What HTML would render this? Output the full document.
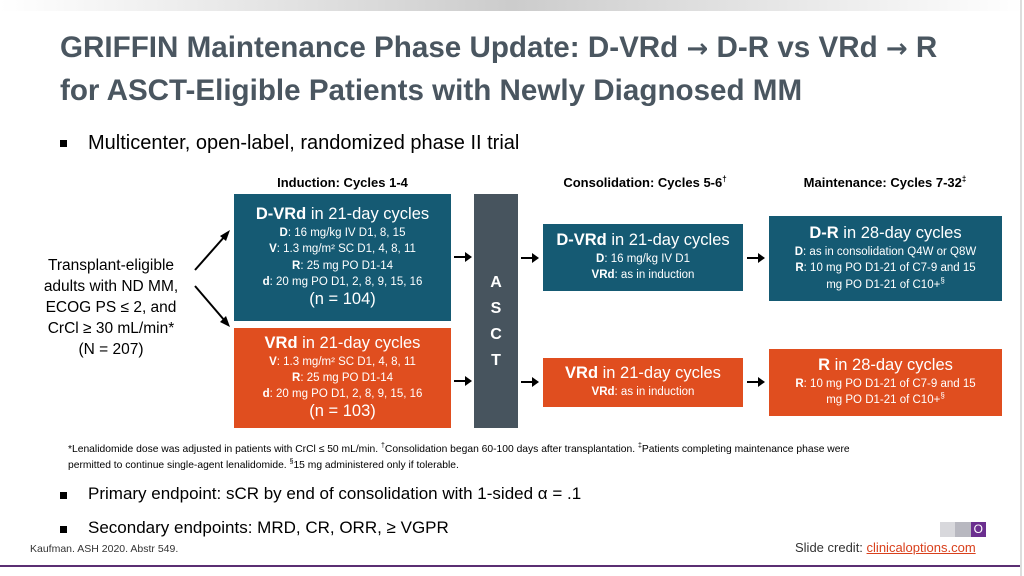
<!DOCTYPE html>
<html><head><meta charset="utf-8"><style>
*{margin:0;padding:0;box-sizing:border-box}
body{width:1024px;height:576px;position:relative;background:#fff;font-family:"Liberation Sans",sans-serif;overflow:hidden;color:#000}
.a{position:absolute}
.box{position:absolute;color:#fff;text-align:center;display:flex;flex-direction:column;justify-content:center;line-height:1.2}
.t{background:#155a73}.o{background:#e04e1f}
.big{font-size:16.5px}.sm{font-size:11.5px;line-height:1.42}
.hdr{position:absolute;font-size:13px;font-weight:bold;text-align:center;top:175px}
.arr{position:absolute;height:2px;background:#000}
.arr:after{content:"";position:absolute;right:-2px;top:-4px;border-left:7px solid #000;border-top:5px solid transparent;border-bottom:5px solid transparent}
.bul{position:absolute;left:60px;font-size:18px;color:#000}
.bul:before{content:"";position:absolute;left:0;top:8px;width:7px;height:7px;background:#000}
sup{line-height:0}
.ar{font-family:"DejaVu Sans",sans-serif;font-size:26px}
</style></head><body>
<div class="a" style="left:0;top:0;width:1024px;height:11px;background:linear-gradient(90deg,#fff,#ccc 50%,#fff)"></div>
<div class="a" style="left:1020px;top:0;width:2px;height:576px;background:#ddd"></div>
<div class="a" style="left:60px;top:27px;font-size:29.6px;font-weight:bold;color:#4a5660;line-height:41px;white-space:nowrap">GRIFFIN Maintenance Phase Update: D-VRd <span class="ar">→</span> D-R vs VRd <span class="ar">→</span> R<br>for ASCT-Eligible Patients with Newly Diagnosed MM</div>
<div class="bul" style="top:132px;font-size:20px;padding-left:28px">Multicenter, open-label, randomized phase II trial</div>

<div class="hdr" style="left:234px;width:217px">Induction: Cycles 1-4</div>
<div class="hdr" style="left:525px;width:240px">Consolidation: Cycles 5-6<sup style="font-size:8px">†</sup></div>
<div class="hdr" style="left:755px;width:260px">Maintenance: Cycles 7-32<sup style="font-size:8px">‡</sup></div>

<div class="a" style="left:12px;top:255px;width:198px;text-align:center;font-size:15.5px;line-height:21px;white-space:nowrap">Transplant-eligible<br>adults with ND MM,<br>ECOG PS ≤ 2, and<br>CrCl ≥ 30 mL/min*<br>(N = 207)</div>
<svg class="a" style="left:190px;top:190px" width="50" height="190"><g stroke="#000" stroke-width="2" fill="none"><line x1="5" y1="80" x2="35" y2="46"/><line x1="5" y1="96" x2="35" y2="131"/></g><polygon points="40,40 30,46 36,51" fill="#000"/><polygon points="40,137 30,132 36,126" fill="#000"/></svg>

<div class="box t" style="left:234px;top:194px;width:217px;height:127px"><div class="big"><b>D-VRd</b> in 21-day cycles</div><div class="sm"><b>D</b>: 16 mg/kg IV D1, 8, 15<br><b>V</b>: 1.3 mg/m² SC D1, 4, 8, 11<br><b>R</b>: 25 mg PO D1-14<br><b>d</b>: 20 mg PO D1, 2, 8, 9, 15, 16</div><div class="big">(n = 104)</div></div>
<div class="box o" style="left:234px;top:328px;width:217px;height:100px"><div class="big"><b>VRd</b> in 21-day cycles</div><div class="sm"><b>V</b>: 1.3 mg/m² SC D1, 4, 8, 11<br><b>R</b>: 25 mg PO D1-14<br><b>d</b>: 20 mg PO D1, 2, 8, 9, 15, 16</div><div class="big">(n = 103)</div></div>

<div class="arr" style="left:454px;top:256px;width:16px"></div>
<div class="arr" style="left:454px;top:380px;width:16px"></div>
<div class="box" style="left:474px;top:194px;width:44px;height:234px;background:#47545e;font-weight:bold;font-size:16px;line-height:26px;justify-content:flex-start;padding-top:76px">A<br>S<br>C<br>T</div>
<div class="arr" style="left:521px;top:257px;width:16px"></div>
<div class="arr" style="left:521px;top:381px;width:16px"></div>

<div class="box t" style="left:543px;top:224px;width:200px;height:67px"><div class="big"><b>D-VRd</b> in 21-day cycles</div><div class="sm"><b>D</b>: 16 mg/kg IV D1<br><b>VRd</b>: as in induction</div></div>
<div class="box o" style="left:543px;top:358px;width:200px;height:49px"><div class="big"><b>VRd</b> in 21-day cycles</div><div class="sm"><b>VRd</b>: as in induction</div></div>
<div class="arr" style="left:747px;top:257px;width:16px"></div>
<div class="arr" style="left:747px;top:381px;width:16px"></div>

<div class="box t" style="left:769px;top:216px;width:233px;height:85px"><div class="big"><b>D-R</b> in 28-day cycles</div><div class="sm"><b>D</b>: as in consolidation Q4W or Q8W<br><b>R</b>: 10 mg PO D1-21 of C7-9 and 15<br>mg PO D1-21 of C10+<sup style="font-size:8px">§</sup></div></div>
<div class="box o" style="left:769px;top:349px;width:233px;height:67px"><div class="big"><b>R</b> in 28-day cycles</div><div class="sm"><b>R</b>: 10 mg PO D1-21 of C7-9 and 15<br>mg PO D1-21 of C10+<sup style="font-size:8px">§</sup></div></div>

<div class="a" style="left:68px;top:442px;width:950px;font-size:10.3px;line-height:16px;white-space:nowrap">*Lenalidomide dose was adjusted in patients with CrCl ≤ 50 mL/min. <sup style="font-size:7px">†</sup>Consolidation began 60-100 days after transplantation. <sup style="font-size:7px">‡</sup>Patients completing maintenance phase were<br>permitted to continue single-agent lenalidomide. <sup style="font-size:7px">§</sup>15 mg administered only if tolerable.</div>
<div class="bul" style="top:484px;font-size:17px;padding-left:28px">Primary endpoint: sCR by end of consolidation with 1-sided α = .1</div>
<div class="bul" style="top:518px;font-size:17px;padding-left:28px">Secondary endpoints: MRD, CR, ORR, ≥ VGPR</div>
<div class="a" style="left:30px;top:543px;font-size:10.5px;color:#333">Kaufman. ASH 2020. Abstr 549.</div>
<div class="a" style="left:940px;top:522px;width:46px;height:15px;display:flex">
<div style="flex:1;background:#d8d8dc"></div><div style="flex:1;background:#b8b8c0"></div><div style="flex:1;background:#6b2f8f;color:#fff;font-size:12px;line-height:15px;text-align:center">O</div></div>
<div class="a" style="left:795px;top:540px;font-size:13px;color:#333">Slide credit: <a style="color:#d9401c;text-decoration:underline">clinicaloptions.com</a></div>
<div class="a" style="left:0;top:565px;width:1020px;height:2px;background:#5b2f73"></div>
</body></html>
